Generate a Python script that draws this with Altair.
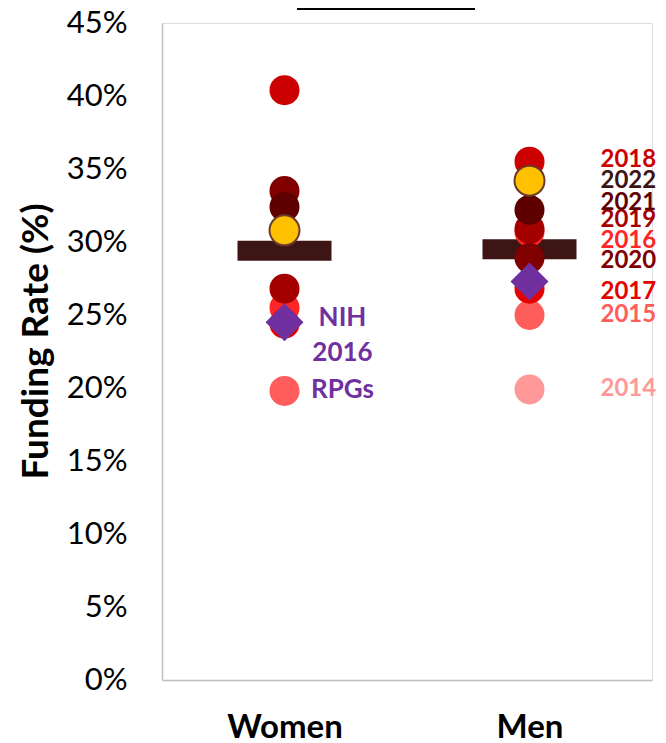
import altair as alt
import pandas as pd

# ---- data ----
years = [2014, 2015, 2016, 2017, 2018, 2019, 2020, 2021, 2022]
women_rate = [None, 19.8, 25.5, 24.4, 40.4, 26.8, 33.5, 32.4, 30.8]
men_rate = [19.9, 25.0, 30.7, 26.8, 35.5, 30.9, 28.9, 32.2, 34.2]
label_rate = [19.9, 25.0, 30.1, 26.6, 35.6, 31.5, 28.7, 32.7, 34.2]
point_colors = ["#FF9999", "#FF5C5C", "#FF2626", "#E60000", "#CC0000",
                "#A50000", "#800000", "#5E0000", "#FFC000"]
label_colors = ["#FF9999", "#FF5C5C", "#FF2626", "#E60000", "#CC0000",
                "#A50000", "#800000", "#5E0000", "#3D1414"]
groups = ["Women", "Men"]
group_pos = [1, 2]
nih_rate = [24.5, 27.3]
mean_rate = [29.4, 29.5]
nih_lines = ["NIH", "2016", "RPGs"]
y_ticks = [0, 5, 10, 15, 20, 25, 30, 35, 40, 45]

FONT = "Lato"

rows = []
for gi, (g, series) in enumerate(zip(groups, [women_rate, men_rate])):
    for i, (yr, v) in enumerate(zip(years, series)):
        if v is not None:
            rows.append({"group": g, "pos": group_pos[gi], "year": yr,
                         "rate": v, "color": point_colors[i], "order": i})
pts = pd.DataFrame(rows).sort_values(["order", "pos"])
pts_main = pts[pts["year"] != 2022]
pts_last = pts[pts["year"] == 2022]

labels = pd.DataFrame({"pos": [group_pos[1]] * len(years),
                       "rate": label_rate,
                       "text": [str(y) for y in years],
                       "color": label_colors})
means = pd.DataFrame({"pos": group_pos, "rate": mean_rate})
nih = pd.DataFrame({"pos": group_pos, "rate": nih_rate})
nih_w = nih.iloc[[0]]

label_expr = " : ".join(
    [f"datum.value == {p} ? '{g}'" for p, g in zip(group_pos[:-1], groups[:-1])]
    + [f"'{groups[-1]}'"])

X = alt.X("pos:Q",
          scale=alt.Scale(domain=[0.5, 2.5], nice=False, zero=False),
          axis=alt.Axis(values=group_pos, labelExpr=label_expr, title=None,
                        ticks=False, tickSize=0, grid=False,
                        labelFontSize=33, labelFontWeight="bold", labelFont=FONT,
                        labelColor="black", labelPadding=31,
                        domainColor="#BFBFBF", domainWidth=1.5))
Y = alt.Y("rate:Q",
          scale=alt.Scale(domain=[0, 45], nice=False),
          axis=alt.Axis(values=y_ticks, labelExpr="datum.value + '%'",
                        title="Funding Rate (%)", ticks=False, tickSize=0,
                        grid=False, labelFontSize=31, labelFont=FONT,
                        labelColor="black", labelPadding=35,
                        titleFontSize=37, titleFont=FONT, titleFontWeight="bold",
                        titleColor="black", titleAngle=-90, titleX=-126,
                        titleY=318, titleAlign="center", titleBaseline="middle",
                        domainColor="#BFBFBF", domainWidth=1.5))

bars = alt.Chart(means).mark_tick(orient="horizontal", size=94, thickness=20,
                                  color="#3D1515", opacity=1).encode(x=X, y=Y)

circles = alt.Chart(pts_main).mark_circle(size=900, opacity=1).encode(
    x="pos:Q", y="rate:Q", color=alt.Color("color:N", scale=None))

circle_last = alt.Chart(pts_last).mark_circle(
    size=900, opacity=1, stroke="#6B3A2A", strokeWidth=2).encode(
    x="pos:Q", y="rate:Q", color=alt.Color("color:N", scale=None))

diamonds = alt.Chart(nih).mark_point(shape="diamond", filled=True, size=1444,
                                     color="#7030A0", opacity=1).encode(
    x="pos:Q", y="rate:Q")

year_text = alt.Chart(labels).mark_text(
    align="left", baseline="middle", dx=71, fontSize=24, fontWeight="bold",
    font=FONT).encode(x="pos:Q", y="rate:Q", text="text:N",
                      color=alt.Color("color:N", scale=None))

nih_layers = []
for line, dy in zip(nih_lines, [-4, 31, 68]):
    nih_layers.append(
        alt.Chart(nih_w).mark_text(align="center", baseline="middle", dx=58,
                                   dy=dy, fontSize=26, fontWeight="bold",
                                   font=FONT, color="#7030A0", text=line)
        .encode(x="pos:Q", y="rate:Q"))

underline = alt.Chart(pd.DataFrame({"a": [0]})).mark_rule(
    color="black", strokeWidth=4).encode(
    x=alt.value(135), x2=alt.value(313), y=alt.value(-15))

chart = alt.layer(bars, circles, circle_last, diamonds, year_text,
                  *nih_layers, underline).properties(
    width=490, height=657,
    padding={"left": 154, "top": 15, "right": 6, "bottom": 60},
    autosize=alt.AutoSizeParams(type="none"),
).configure_view(stroke=None).configure(background="white")

chart.save("out.html", embed_options={"renderer": "svg", "actions": False})
